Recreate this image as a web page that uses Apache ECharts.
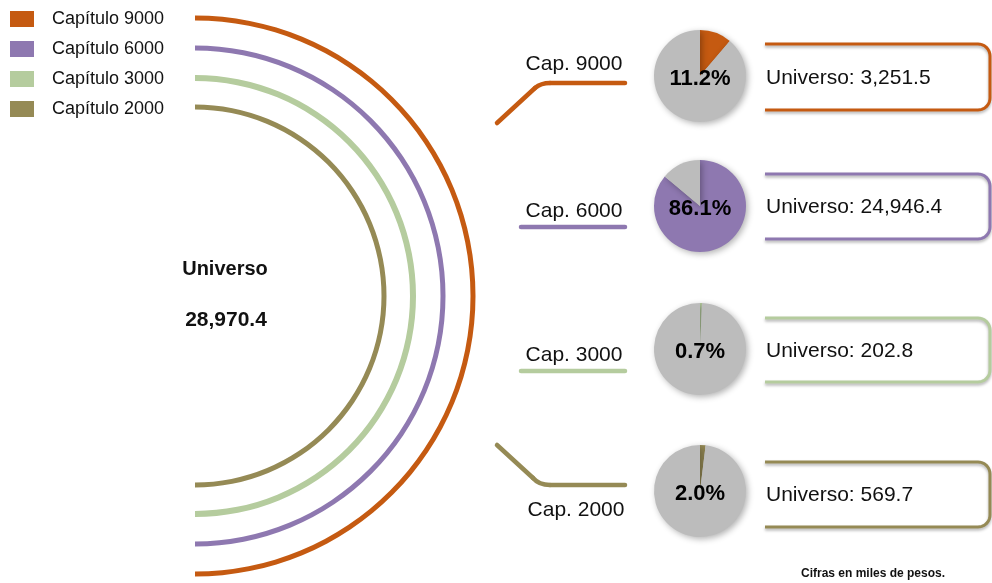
<!DOCTYPE html>
<html><head><meta charset="utf-8">
<script src="https://cdn.jsdelivr.net/npm/echarts@6/dist/echarts.min.js"></script>
<style>html,body{margin:0;padding:0;background:#fff}#c{width:992px;height:583px}</style>
</head><body><div id="c"></div>
<script>
// ---- data ----
const categories = ['Capítulo 9000', 'Capítulo 6000', 'Capítulo 3000', 'Capítulo 2000'];
const shortLabels = ['Cap. 9000', 'Cap. 6000', 'Cap. 3000', 'Cap. 2000'];
const universoValues = [3251.5, 24946.4, 202.8, 569.7];
const totalUniverso = 28970.4;
const totalLabel = 'Universo';
const note = 'Cifras en miles de pesos.';

// ---- styling / layout ----
const colors = ['#c55a11', '#8e78b0', '#b5cc9e', '#958a55'];
const arcWidths = [5, 5, 6, 5];
const gray = '#bcbcbc';
const FONT = '"Liberation Sans", Arial, Helvetica, sans-serif';
const arcCenter = [195, 296];
const arcRadii = [278, 248, 218, 189];
const pieX = 700, pieR = 46;
const pieY = [76, 206, 349, 491];
const boxes = [[44, 110], [174, 239], [318, 382], [462, 527]];
const boxX0 = 765, boxX1 = 990, boxR = 12;

const fmt = v => v.toLocaleString('en-US', {minimumFractionDigits: 1, maximumFractionDigits: 1});

const series = [];
categories.forEach((c, i) => {
  series.push({
    type: 'pie', silent: true, animation: false,
    center: arcCenter, radius: [arcRadii[i] - arcWidths[i] / 2, arcRadii[i] + arcWidths[i] / 2],
    startAngle: 90, clockwise: true,
    label: {show: false}, labelLine: {show: false},
    itemStyle: {borderWidth: 0},
    data: [
      {name: c, value: 1, itemStyle: {color: colors[i]}},
      {name: '_hidden', value: 1, itemStyle: {color: 'rgba(0,0,0,0)'}}
    ]
  });
});
categories.forEach((c, i) => {
  series.push({
    type: 'pie', silent: true, animation: false,
    center: [pieX, pieY[i]], radius: pieR,
    startAngle: 90, clockwise: true, minAngle: 0,
    labelLine: {show: false},
    label: {show: false, position: 'center', offset: [0, 3],
            formatter: p => p.percent.toFixed(1) + '%',
            fontFamily: 'Liberation Sans', fontSize: 22, fontWeight: 'bold', color: '#000'},
    itemStyle: {borderWidth: 0, shadowBlur: 6, shadowColor: 'rgba(0,0,0,0.3)', shadowOffsetX: 2, shadowOffsetY: 2},
    data: [
      {name: c, value: universoValues[i], itemStyle: {color: colors[i]}, label: {show: true}},
      {name: 'Resto ' + c, value: totalUniverso - universoValues[i], itemStyle: {color: gray}}
    ]
  });
});

function boxPoints(top, bot) {
  const pts = [[boxX0, top], [boxX1 - boxR, top]];
  const steps = 10;
  for (let s = 1; s <= steps; s++) {
    const a = -Math.PI / 2 + (Math.PI / 2) * s / steps;
    pts.push([boxX1 - boxR + boxR * Math.cos(a), top + boxR + boxR * Math.sin(a)]);
  }
  pts.push([boxX1, bot - boxR]);
  for (let s = 1; s <= steps; s++) {
    const a = (Math.PI / 2) * s / steps;
    pts.push([boxX1 - boxR + boxR * Math.cos(a), bot - boxR + boxR * Math.sin(a)]);
  }
  pts.push([boxX0, bot]);
  return pts;
}

const graphic = [];
// connectors
const conn = [
  {pts: [[497, 123], [535, 88]], bez: [535, 88, 541, 83, 550, 83], line: [[550, 83], [625, 83]], text: [574, 64]},
  {line: [[521, 227], [625, 227]], text: [574, 211]},
  {line: [[521, 371], [625, 371]], text: [574, 355]},
  {pts: [[497, 445], [533, 478]], bez: [533, 478, 539, 485, 550, 485], line: [[550, 485], [625, 485]], text: [576, 510]}
];
conn.forEach((k, i) => {
  const st = {stroke: colors[i], lineWidth: 4.5, lineCap: 'round', fill: null};
  if (k.pts) graphic.push({type: 'polyline', silent: true, shape: {points: k.pts}, style: st});
  if (k.bez) graphic.push({type: 'bezierCurve', silent: true, shape: {x1: k.bez[0], y1: k.bez[1], cpx1: k.bez[2], cpy1: k.bez[3], x2: k.bez[4], y2: k.bez[5]}, style: st});
  graphic.push({type: 'polyline', silent: true, shape: {points: k.line}, style: st});
  graphic.push({type: 'text', silent: true, style: {text: shortLabels[i], x: k.text[0], y: k.text[1], textAlign: 'center', textVerticalAlign: 'middle', font: '21px ' + FONT, fill: '#111'}});
});
// boxes
boxes.forEach((b, i) => {
  graphic.push({type: 'polyline', silent: true, shape: {points: boxPoints(b[0], b[1])},
    style: {fill: null, stroke: colors[i], lineWidth: 3, lineJoin: 'round', shadowBlur: 3, shadowColor: 'rgba(0,0,0,0.3)', shadowOffsetY: 2}});
  graphic.push({type: 'text', silent: true, style: {text: 'Universo: ' + fmt(universoValues[i]), x: boxX0 + 1, y: (b[0] + b[1]) / 2 + 1, textVerticalAlign: 'middle', font: '21px ' + FONT, fill: '#111'}});
});
// center texts
graphic.push({type: 'text', silent: true, style: {text: totalLabel, x: 225, y: 269, textAlign: 'center', textVerticalAlign: 'middle', font: 'bold 20px ' + FONT, fill: '#111'}});
graphic.push({type: 'text', silent: true, style: {text: fmt(totalUniverso), x: 226, y: 320, textAlign: 'center', textVerticalAlign: 'middle', font: 'bold 21px ' + FONT, fill: '#111'}});
graphic.push({type: 'text', silent: true, style: {text: note, x: 873, y: 574, textAlign: 'center', textVerticalAlign: 'middle', font: 'bold 12px ' + FONT, fill: '#111'}});

const chart = echarts.init(document.getElementById('c'), null, {renderer: 'canvas'});
chart.setOption({
  backgroundColor: '#fff',
  animation: false,
  legend: {
    data: categories, orient: 'vertical', left: 5, top: 5,
    icon: 'rect', itemWidth: 24, itemHeight: 16, itemGap: 12,
    selectedMode: false,
    textStyle: {fontFamily: FONT, fontSize: 18, color: '#111', padding: [0, 0, 0, 13]}
  },
  series: series,
  graphic: graphic
});
</script></body></html>
